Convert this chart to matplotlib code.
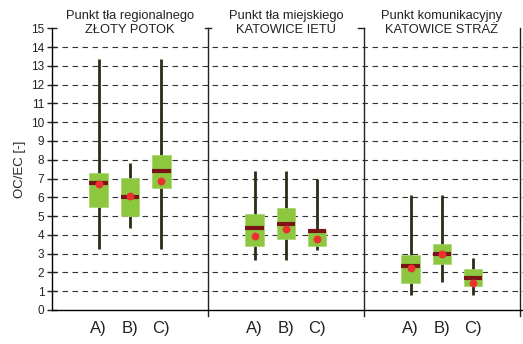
import matplotlib
matplotlib.use("Agg")
import matplotlib.pyplot as plt
import numpy as np

plt.rcParams['font.family'] = ['Liberation Sans', 'DejaVu Sans']

# panel titles
titles = [("Punkt tła regionalnego", "ZŁOTY POTOK"),
          ("Punkt tła miejskiego", "KATOWICE IETU"),
          ("Punkt komunikacyjny", "KATOWICE STRAŻ")]
cats = ["A)", "B)", "C)"]

# values per panel, per category (A, B, C)
whisk_lo = [[3.27, 4.37, 3.27], [2.68, 2.68, 3.21], [0.78, 1.49, 0.78]]
whisk_hi = [[13.35, 7.81, 13.35], [7.42, 7.42, 6.96], [6.12, 6.12, 2.75]]
q1 = [[5.50, 4.99, 6.50], [3.43, 3.76, 3.43], [1.42, 2.47, 1.26]]
q3 = [[7.31, 7.01, 8.25], [5.13, 5.41, 4.28], [2.93, 3.52, 2.18]]
median = [[6.75, 6.04, 7.40], [4.37, 4.56, 4.19], [2.33, 3.00, 1.69]]
mean = [[6.71, 6.07, 6.85], [3.96, 4.33, 3.80], [2.24, 3.00, 1.44]]

green = "#8dc63f"
dark = "#2a2d18"
dred = "#7a1416"
red = "#ee3030"

fig = plt.figure(figsize=(5.23, 3.44), dpi=100)
ax = fig.add_axes([52/523, 34/344, 471/523, 281.7/344])

panel_w = 5.0
offs = [1.5, 2.5, 3.5]
bw = 0.6

# grid
ax.hlines(np.arange(1, 15), 0, 15.1, colors="#333333", linestyles=(0, (5, 4)), lw=0.8, zorder=1)

xs_all, labs_all = [], []
for p in range(3):
    x = np.array(offs) + p * panel_w
    ax.vlines(x, whisk_lo[p], whisk_hi[p], colors=dark, lw=2.0, zorder=2)
    ax.bar(x, np.array(q3[p]) - np.array(q1[p]), bottom=q1[p], width=bw,
           color=green, edgecolor="#a6d66a", lw=0.5, zorder=3)
    ax.hlines(median[p], x - bw/2, x + bw/2, colors=dred, lw=3.0, zorder=4)
    ax.scatter(x, mean[p], s=32, color=red, zorder=5, linewidths=0)
    xs_all += list(x)
    labs_all += cats
    cx = p * panel_w + panel_w / 2
    ax.text(cx, 15.68, titles[p][0], ha="center", va="center", fontsize=9.3, color="#222222", clip_on=False)
    ax.text(cx, 14.9, titles[p][1], ha="center", va="center", fontsize=9.3, color="#222222", clip_on=False)

# separators
for sx in [5, 10, 15]:
    ax.plot([sx, sx], [-0.3, 15], color="#222222", lw=1.0, clip_on=False, zorder=2)
ax.plot([4.9, 5.1], [15, 15], color="#222222", lw=1.0, clip_on=False)
ax.plot([9.8, 10], [15, 15], color="#222222", lw=1.0, clip_on=False)

ax.set_xlim(0, 15.1)
ax.set_ylim(0, 15)
ax.set_yticks(range(0, 16))
ax.set_xticks(xs_all)
ax.set_xticklabels(labs_all, fontsize=12, color="#222222")
ax.tick_params(axis="x", length=0, pad=8)
ax.tick_params(axis="y", direction="inout", length=7, width=1, labelsize=8.5, pad=2, colors="#222222")
for s in ["top", "right"]:
    ax.spines[s].set_visible(False)
ax.spines["left"].set_linewidth(1.0)
ax.spines["bottom"].set_linewidth(1.0)
ax.set_ylabel("OC/EC [-]", fontsize=9.5, labelpad=4, color="#222222")

fig.savefig("out.png", dpi=100)
